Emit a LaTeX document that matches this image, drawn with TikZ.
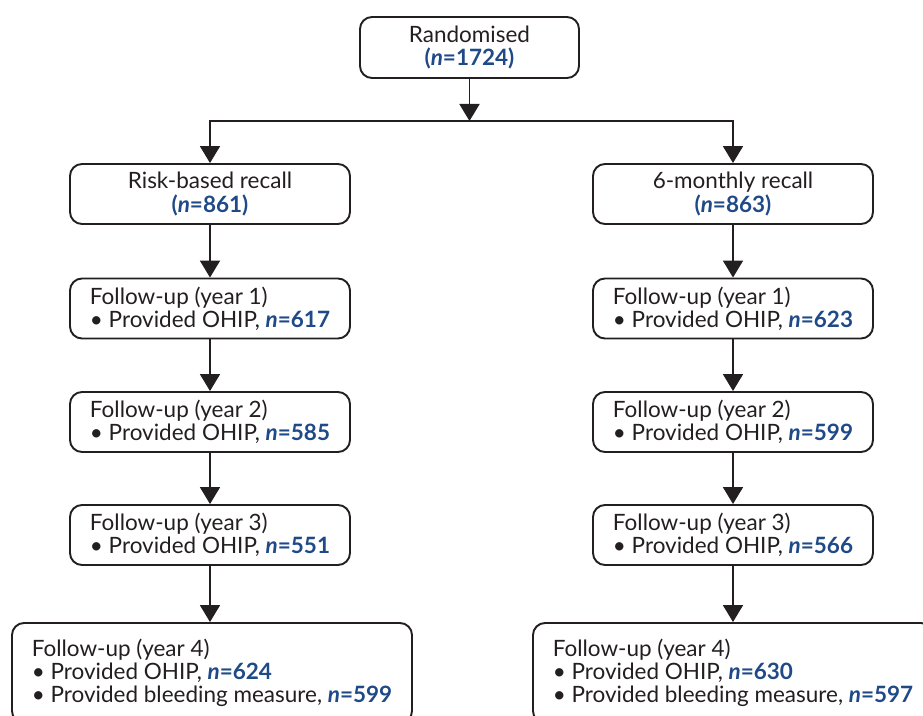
\documentclass[tikz,border=0pt]{standalone}
\usepackage{fontspec}
\setmainfont{Lato}
\usepackage{tikz}
\usetikzlibrary{arrows.meta, positioning}
\definecolor{ink}{HTML}{231F20}
\definecolor{nblue}{HTML}{1F4A87}
\newcommand{\nval}[1]{\textcolor{nblue}{\textbf{\textit{n}=#1}}}
\newcommand{\nbrk}[1]{\textcolor{nblue}{\textbf{(\textit{n}=#1)}}}

\begin{document}
\begin{tikzpicture}[
    box/.style={draw=ink, line width=1.1pt, rounded corners=0.24cm, minimum width=5.6cm,
                minimum height=1.2cm, align=center, text=ink, font=\fontsize{12.8}{13.2}\selectfont},
    fbox/.style={box, align=left},
    wbox/.style={fbox, minimum width=8cm, minimum height=2cm},
    arr/.style={-{Triangle[length=0.34cm, width=0.4cm]}, draw=ink, line width=1.1pt}
  ]
    \useasboundingbox (0,0) rectangle (18.46,-14.32);

    \node[box, minimum width=4.38cm, minimum height=1.22cm] (rand) at (9.39,-0.95)
      {Randomised\\\nbrk{1724}};
    \coordinate (split) at (9.39,-2.42);

    \node[box] (risk) at (4.2,-3.88)  {Risk-based recall\\\nbrk{861}};
    \node[box] (six)  at (14.66,-3.88) {6-monthly recall\\\nbrk{863}};

    \node[fbox] (riskA) at (4.2,-6.17)  {Follow-up (year 1)\\\textbullet{} Provided OHIP, \nval{617}};
    \node[fbox] (riskB) at (4.2,-8.44)  {Follow-up (year 2)\\\textbullet{} Provided OHIP, \nval{585}};
    \node[fbox] (riskC) at (4.2,-10.70) {Follow-up (year 3)\\\textbullet{} Provided OHIP, \nval{551}};
    \node[wbox] (riskD) at (4.24,-13.46)
      {Follow-up (year 4)\\\textbullet{} Provided OHIP, \nval{624}\\\textbullet{} Provided bleeding measure, \nval{599}};

    \node[fbox] (sixA) at (14.66,-6.17)  {Follow-up (year 1)\\\textbullet{} Provided OHIP, \nval{623}};
    \node[fbox] (sixB) at (14.66,-8.44)  {Follow-up (year 2)\\\textbullet{} Provided OHIP, \nval{599}};
    \node[fbox] (sixC) at (14.66,-10.70) {Follow-up (year 3)\\\textbullet{} Provided OHIP, \nval{566}};
    \node[wbox] (sixD) at (14.66,-13.46)
      {Follow-up (year 4)\\\textbullet{} Provided OHIP, \nval{630}\\\textbullet{} Provided bleeding measure, \nval{597}};

    \draw[arr] (rand) -- (split);
    \draw[arr] (split) -| (risk);
    \draw[arr] (split) -| (six);

    \draw[arr] (risk) -- (riskA);
    \draw[arr] (riskA) -- (riskB);
    \draw[arr] (riskB) -- (riskC);
    \draw[arr] (riskC) -- (riskC |- riskD.north);

    \draw[arr] (six) -- (sixA);
    \draw[arr] (sixA) -- (sixB);
    \draw[arr] (sixB) -- (sixC);
    \draw[arr] (sixC) -- (sixD);
\end{tikzpicture}
\end{document}
